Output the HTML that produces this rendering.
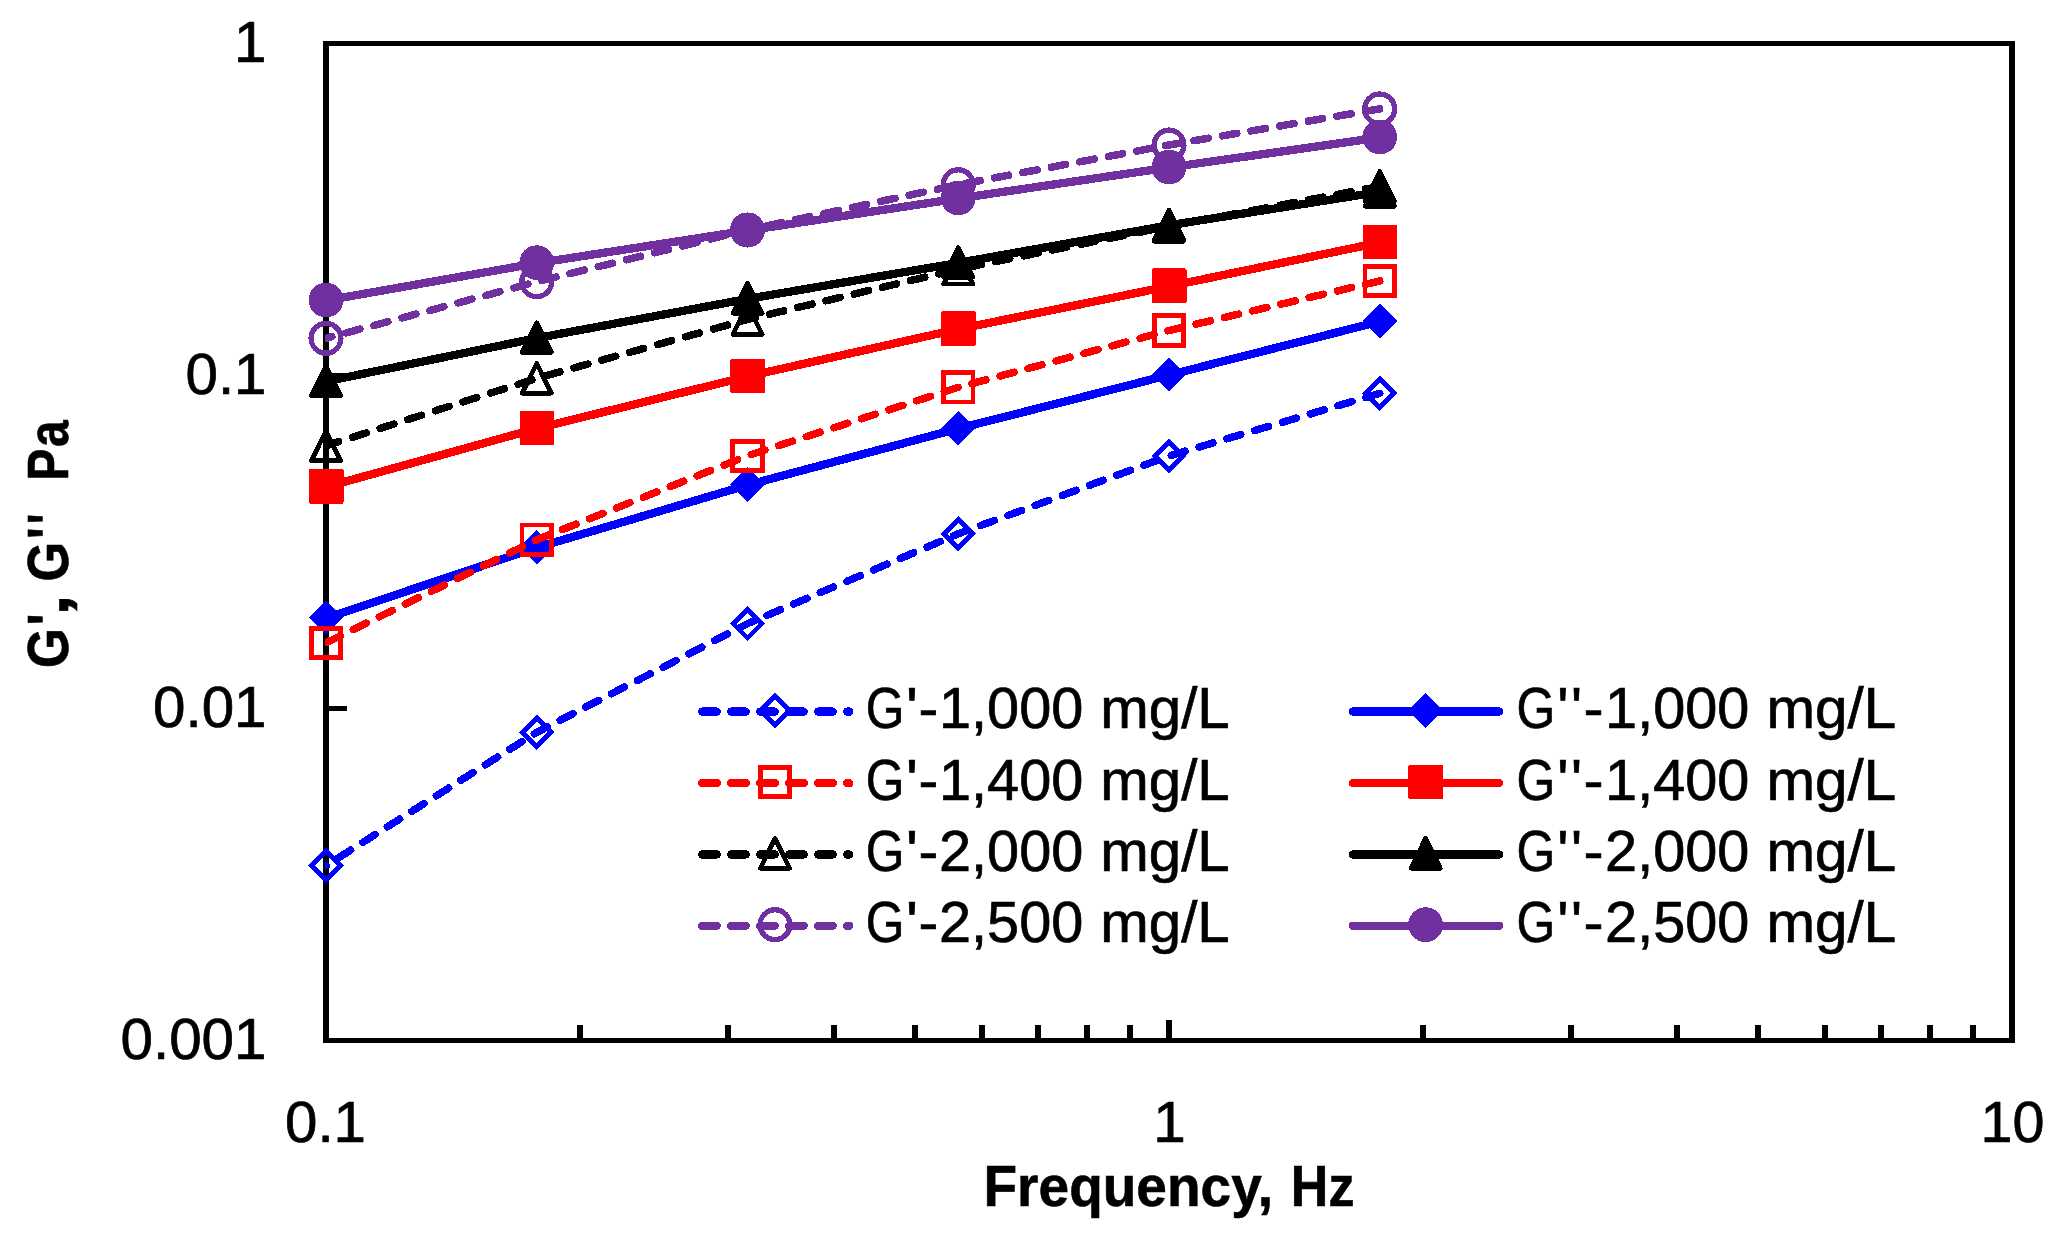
<!DOCTYPE html>
<html lang="en"><head><meta charset="utf-8"><title>G', G'' vs Frequency</title>
<style>
html,body{margin:0;padding:0;background:#fff;}
body{width:2062px;height:1244px;overflow:hidden;}
svg{display:block;}
text{font-family:"Liberation Sans",sans-serif;fill:#000;}
.t{font-size:57.2px;stroke:#000;stroke-width:0.7px;}
.b{font-size:56.5px;font-weight:bold;stroke:#000;stroke-width:0.6px;}
</style></head><body>
<svg width="2062" height="1244" viewBox="0 0 2062 1244">
<defs><clipPath id="plot"><rect x="325" y="43.5" width="1687" height="997"/></clipPath></defs>
<rect width="2062" height="1244" fill="#fff"/>
<g fill="#000" shape-rendering="crispEdges">
<rect x="323" y="41" width="6" height="1002"/>
<rect x="2009" y="41" width="6" height="1002"/>
<rect x="323" y="41" width="1692" height="5"/>
<rect x="323" y="1038" width="1692" height="5"/>

<rect x="577" y="1025" width="6" height="14"/>
<rect x="725" y="1025" width="6" height="14"/>
<rect x="831" y="1025" width="6" height="14"/>
<rect x="912" y="1025" width="6" height="14"/>
<rect x="979" y="1025" width="6" height="14"/>
<rect x="1035" y="1025" width="6" height="14"/>
<rect x="1084" y="1025" width="6" height="14"/>
<rect x="1127" y="1025" width="6" height="14"/>
<rect x="1420" y="1025" width="6" height="14"/>
<rect x="1568" y="1025" width="6" height="14"/>
<rect x="1674" y="1025" width="6" height="14"/>
<rect x="1755" y="1025" width="6" height="14"/>
<rect x="1822" y="1025" width="6" height="14"/>
<rect x="1878" y="1025" width="6" height="14"/>
<rect x="1927" y="1025" width="6" height="14"/>
<rect x="1970" y="1025" width="6" height="14"/>
<rect x="1166" y="1020" width="6" height="19"/>
<rect x="328" y="706" width="19" height="5"/>
<rect x="328" y="373" width="19" height="5"/>
</g>
<g shape-rendering="crispEdges">
<path d="M1379.75,393.3 L1169,456 L958.25,533.8 L747.5,623.7 L536.75,732.3 L326,865.7" fill="none" stroke="#0000ff" stroke-width="7.5" stroke-linejoin="round" stroke-linecap="round" stroke-dasharray="14.5 14.5" clip-path="url(#plot)"/>
<polygon points="326,851.4 340.3,865.7 326,880 311.7,865.7" fill="none" stroke="#0000ff" stroke-width="4.8" stroke-linejoin="miter"/>
<polygon points="536.75,718 551.05,732.3 536.75,746.6 522.45,732.3" fill="none" stroke="#0000ff" stroke-width="4.8" stroke-linejoin="miter"/>
<polygon points="747.5,609.4 761.8,623.7 747.5,638 733.2,623.7" fill="none" stroke="#0000ff" stroke-width="4.8" stroke-linejoin="miter"/>
<polygon points="958.25,519.5 972.55,533.8 958.25,548.1 943.95,533.8" fill="none" stroke="#0000ff" stroke-width="4.8" stroke-linejoin="miter"/>
<polygon points="1169,441.7 1183.3,456 1169,470.3 1154.7,456" fill="none" stroke="#0000ff" stroke-width="4.8" stroke-linejoin="miter"/>
<polygon points="1379.75,379 1394.05,393.3 1379.75,407.6 1365.45,393.3" fill="none" stroke="#0000ff" stroke-width="4.8" stroke-linejoin="miter"/>
<path d="M326,617.6 L536.75,547.1 L747.5,484.5 L958.25,428.1 L1169,374.5 L1379.75,321" fill="none" stroke="#0000ff" stroke-width="8.3" stroke-linejoin="round" transform="translate(0.3,0.45)" clip-path="url(#plot)"/>
<polygon points="326,600.3 343.3,617.6 326,634.9 308.7,617.6" fill="#0000ff"/>
<polygon points="536.75,529.8 554.05,547.1 536.75,564.4 519.45,547.1" fill="#0000ff"/>
<polygon points="747.5,467.2 764.8,484.5 747.5,501.8 730.2,484.5" fill="#0000ff"/>
<polygon points="958.25,410.8 975.55,428.1 958.25,445.4 940.95,428.1" fill="#0000ff"/>
<polygon points="1169,357.2 1186.3,374.5 1169,391.8 1151.7,374.5" fill="#0000ff"/>
<polygon points="1379.75,303.7 1397.05,321 1379.75,338.3 1362.45,321" fill="#0000ff"/>
<path d="M1379.75,281 L1169,330.5 L958.25,387.3 L747.5,455.8 L536.75,539.8 L326,642.9" fill="none" stroke="#ff0000" stroke-width="7.5" stroke-linejoin="round" stroke-linecap="round" stroke-dasharray="14.5 14.5" clip-path="url(#plot)"/>
<rect x="311.3" y="628.2" width="29.4" height="29.4" fill="none" stroke="#ff0000" stroke-width="4.8"/>
<rect x="522.05" y="525.1" width="29.4" height="29.4" fill="none" stroke="#ff0000" stroke-width="4.8"/>
<rect x="732.8" y="441.1" width="29.4" height="29.4" fill="none" stroke="#ff0000" stroke-width="4.8"/>
<rect x="943.55" y="372.6" width="29.4" height="29.4" fill="none" stroke="#ff0000" stroke-width="4.8"/>
<rect x="1154.3" y="315.8" width="29.4" height="29.4" fill="none" stroke="#ff0000" stroke-width="4.8"/>
<rect x="1365.05" y="266.3" width="29.4" height="29.4" fill="none" stroke="#ff0000" stroke-width="4.8"/>
<path d="M326,486.4 L536.75,428 L747.5,375.9 L958.25,328.6 L1169,285.8 L1379.75,242" fill="none" stroke="#ff0000" stroke-width="8.3" stroke-linejoin="round" transform="translate(0.3,0.45)" clip-path="url(#plot)"/>
<rect x="308.85" y="469.05" width="34.7" height="34.7" rx="1.5" fill="#ff0000"/>
<rect x="519.6" y="410.65" width="34.7" height="34.7" rx="1.5" fill="#ff0000"/>
<rect x="730.35" y="358.55" width="34.7" height="34.7" rx="1.5" fill="#ff0000"/>
<rect x="941.1" y="311.25" width="34.7" height="34.7" rx="1.5" fill="#ff0000"/>
<rect x="1151.85" y="268.45" width="34.7" height="34.7" rx="1.5" fill="#ff0000"/>
<rect x="1362.6" y="224.65" width="34.7" height="34.7" rx="1.5" fill="#ff0000"/>
<path d="M1379.75,186.4 L1169,226.3 L958.25,269.2 L747.5,319.5 L536.75,378.3 L326,445.8" fill="none" stroke="#000000" stroke-width="7.5" stroke-linejoin="round" stroke-linecap="round" stroke-dasharray="14.5 14.5" clip-path="url(#plot)"/>
<polygon points="326,431 340.6,460.6 311.4,460.6" fill="none" stroke="#000000" stroke-width="4.8" stroke-linejoin="round"/>
<polygon points="536.75,363.5 551.35,393.1 522.15,393.1" fill="none" stroke="#000000" stroke-width="4.8" stroke-linejoin="round"/>
<polygon points="747.5,304.7 762.1,334.3 732.9,334.3" fill="none" stroke="#000000" stroke-width="4.8" stroke-linejoin="round"/>
<polygon points="958.25,254.4 972.85,284 943.65,284" fill="none" stroke="#000000" stroke-width="4.8" stroke-linejoin="round"/>
<polygon points="1169,211.5 1183.6,241.1 1154.4,241.1" fill="none" stroke="#000000" stroke-width="4.8" stroke-linejoin="round"/>
<polygon points="1379.75,171.6 1394.35,201.2 1365.15,201.2" fill="none" stroke="#000000" stroke-width="4.8" stroke-linejoin="round"/>
<path d="M326,380.9 L536.75,337.6 L747.5,298.4 L958.25,262.4 L1169,224.8 L1379.75,191.4" fill="none" stroke="#000000" stroke-width="8.3" stroke-linejoin="round" transform="translate(0.3,0.45)" clip-path="url(#plot)"/>
<polygon points="326,366.1 340.6,395.7 311.4,395.7" fill="#000000" stroke="#000000" stroke-width="4.8" stroke-linejoin="round"/>
<polygon points="536.75,322.8 551.35,352.4 522.15,352.4" fill="#000000" stroke="#000000" stroke-width="4.8" stroke-linejoin="round"/>
<polygon points="747.5,283.6 762.1,313.2 732.9,313.2" fill="#000000" stroke="#000000" stroke-width="4.8" stroke-linejoin="round"/>
<polygon points="958.25,247.6 972.85,277.2 943.65,277.2" fill="#000000" stroke="#000000" stroke-width="4.8" stroke-linejoin="round"/>
<polygon points="1169,210 1183.6,239.6 1154.4,239.6" fill="#000000" stroke="#000000" stroke-width="4.8" stroke-linejoin="round"/>
<polygon points="1379.75,176.6 1394.35,206.2 1365.15,206.2" fill="#000000" stroke="#000000" stroke-width="4.8" stroke-linejoin="round"/>
<path d="M1379.75,108.9 L1169,145 L958.25,184.7 L747.5,230 L536.75,281.8 L326,338.3" fill="none" stroke="#7030a0" stroke-width="7.5" stroke-linejoin="round" stroke-linecap="round" stroke-dasharray="14.5 14.5" clip-path="url(#plot)"/>
<circle cx="326" cy="338.3" r="14.9" fill="none" stroke="#7030a0" stroke-width="5.3"/>
<circle cx="536.75" cy="281.8" r="14.9" fill="none" stroke="#7030a0" stroke-width="5.3"/>
<circle cx="747.5" cy="230" r="14.9" fill="none" stroke="#7030a0" stroke-width="5.3"/>
<circle cx="958.25" cy="184.7" r="14.9" fill="none" stroke="#7030a0" stroke-width="5.3"/>
<circle cx="1169" cy="145" r="14.9" fill="none" stroke="#7030a0" stroke-width="5.3"/>
<circle cx="1379.75" cy="108.9" r="14.9" fill="none" stroke="#7030a0" stroke-width="5.3"/>
<path d="M326,300 L536.75,262.7 L747.5,230 L958.25,198 L1169,167 L1379.75,137" fill="none" stroke="#7030a0" stroke-width="8.3" stroke-linejoin="round" transform="translate(0.3,0.45)" clip-path="url(#plot)"/>
<circle cx="326" cy="300" r="17.4" fill="#7030a0"/>
<circle cx="536.75" cy="262.7" r="17.4" fill="#7030a0"/>
<circle cx="747.5" cy="230" r="17.4" fill="#7030a0"/>
<circle cx="958.25" cy="198" r="17.4" fill="#7030a0"/>
<circle cx="1169" cy="167" r="17.4" fill="#7030a0"/>
<circle cx="1379.75" cy="137" r="17.4" fill="#7030a0"/>
</g>
<g shape-rendering="crispEdges">
<line x1="702.2" y1="711.6" x2="849.3" y2="711.6" stroke="#0000ff" stroke-width="8.3" stroke-linecap="round" stroke-dasharray="14.5 14.5"/>
<polygon points="775,696.2 789.3,710.5 775,724.8 760.7,710.5" fill="none" stroke="#0000ff" stroke-width="4.8" stroke-linejoin="miter"/>
<text class="t" y="728.1" xml:space="preserve"><tspan x="865.75" textLength="38.72" lengthAdjust="spacingAndGlyphs">G</tspan><tspan x="905.99" textLength="11.9" lengthAdjust="spacingAndGlyphs">'</tspan><tspan x="918.61" textLength="19.78" lengthAdjust="spacingAndGlyphs">-</tspan><tspan x="939" textLength="160.3" lengthAdjust="spacingAndGlyphs">1,000 </tspan><tspan x="1100.3" textLength="129.4" lengthAdjust="spacingAndGlyphs">mg/L</tspan></text>
<line x1="1352.8" y1="711.6" x2="1499.2" y2="711.6" stroke="#0000ff" stroke-width="8.3" stroke-linecap="round"/>
<polygon points="1425.6,693.2 1442.9,710.5 1425.6,727.8 1408.3,710.5" fill="#0000ff"/>
<text class="t" y="728.1" xml:space="preserve"><tspan x="1516.55" textLength="38.72" lengthAdjust="spacingAndGlyphs">G</tspan><tspan x="1557.35" textLength="11.26" lengthAdjust="spacingAndGlyphs">'</tspan><tspan x="1570.91" textLength="11.05" lengthAdjust="spacingAndGlyphs">'</tspan><tspan x="1583.47" textLength="20.05" lengthAdjust="spacingAndGlyphs">-</tspan><tspan x="1605.1" textLength="160.3" lengthAdjust="spacingAndGlyphs">1,000 </tspan><tspan x="1766.5" textLength="129.6" lengthAdjust="spacingAndGlyphs">mg/L</tspan></text>
<line x1="702.2" y1="783.1" x2="849.3" y2="783.1" stroke="#ff0000" stroke-width="8.3" stroke-linecap="round" stroke-dasharray="14.5 14.5"/>
<rect x="760.3" y="767.3" width="29.4" height="29.4" fill="none" stroke="#ff0000" stroke-width="4.8"/>
<text class="t" y="799.6" xml:space="preserve"><tspan x="865.75" textLength="38.72" lengthAdjust="spacingAndGlyphs">G</tspan><tspan x="905.99" textLength="11.9" lengthAdjust="spacingAndGlyphs">'</tspan><tspan x="918.61" textLength="19.78" lengthAdjust="spacingAndGlyphs">-</tspan><tspan x="939" textLength="160.3" lengthAdjust="spacingAndGlyphs">1,400 </tspan><tspan x="1100.3" textLength="129.4" lengthAdjust="spacingAndGlyphs">mg/L</tspan></text>
<line x1="1352.8" y1="783.1" x2="1499.2" y2="783.1" stroke="#ff0000" stroke-width="8.3" stroke-linecap="round"/>
<rect x="1408.45" y="764.65" width="34.7" height="34.7" rx="1.5" fill="#ff0000"/>
<text class="t" y="799.6" xml:space="preserve"><tspan x="1516.55" textLength="38.72" lengthAdjust="spacingAndGlyphs">G</tspan><tspan x="1557.35" textLength="11.26" lengthAdjust="spacingAndGlyphs">'</tspan><tspan x="1570.91" textLength="11.05" lengthAdjust="spacingAndGlyphs">'</tspan><tspan x="1583.47" textLength="20.05" lengthAdjust="spacingAndGlyphs">-</tspan><tspan x="1605.1" textLength="160.3" lengthAdjust="spacingAndGlyphs">1,400 </tspan><tspan x="1766.5" textLength="129.6" lengthAdjust="spacingAndGlyphs">mg/L</tspan></text>
<line x1="702.2" y1="854.5" x2="849.3" y2="854.5" stroke="#000000" stroke-width="8.3" stroke-linecap="round" stroke-dasharray="14.5 14.5"/>
<polygon points="775,838.6 789.6,868.2 760.4,868.2" fill="none" stroke="#000000" stroke-width="4.8" stroke-linejoin="round"/>
<text class="t" y="871" xml:space="preserve"><tspan x="865.75" textLength="38.72" lengthAdjust="spacingAndGlyphs">G</tspan><tspan x="905.99" textLength="11.9" lengthAdjust="spacingAndGlyphs">'</tspan><tspan x="918.61" textLength="19.78" lengthAdjust="spacingAndGlyphs">-</tspan><tspan x="939" textLength="160.3" lengthAdjust="spacingAndGlyphs">2,000 </tspan><tspan x="1100.3" textLength="129.4" lengthAdjust="spacingAndGlyphs">mg/L</tspan></text>
<line x1="1352.8" y1="854.5" x2="1499.2" y2="854.5" stroke="#000000" stroke-width="8.3" stroke-linecap="round"/>
<polygon points="1425.6,838.6 1440.2,868.2 1411,868.2" fill="#000000" stroke="#000000" stroke-width="4.8" stroke-linejoin="round"/>
<text class="t" y="871" xml:space="preserve"><tspan x="1516.55" textLength="38.72" lengthAdjust="spacingAndGlyphs">G</tspan><tspan x="1557.35" textLength="11.26" lengthAdjust="spacingAndGlyphs">'</tspan><tspan x="1570.91" textLength="11.05" lengthAdjust="spacingAndGlyphs">'</tspan><tspan x="1583.47" textLength="20.05" lengthAdjust="spacingAndGlyphs">-</tspan><tspan x="1605.1" textLength="160.3" lengthAdjust="spacingAndGlyphs">2,000 </tspan><tspan x="1766.5" textLength="129.6" lengthAdjust="spacingAndGlyphs">mg/L</tspan></text>
<line x1="702.2" y1="925.8" x2="849.3" y2="925.8" stroke="#7030a0" stroke-width="8.3" stroke-linecap="round" stroke-dasharray="14.5 14.5"/>
<circle cx="775" cy="924.7" r="14.9" fill="none" stroke="#7030a0" stroke-width="5.3"/>
<text class="t" y="942.3" xml:space="preserve"><tspan x="865.75" textLength="38.72" lengthAdjust="spacingAndGlyphs">G</tspan><tspan x="905.99" textLength="11.9" lengthAdjust="spacingAndGlyphs">'</tspan><tspan x="918.61" textLength="19.78" lengthAdjust="spacingAndGlyphs">-</tspan><tspan x="939" textLength="160.3" lengthAdjust="spacingAndGlyphs">2,500 </tspan><tspan x="1100.3" textLength="129.4" lengthAdjust="spacingAndGlyphs">mg/L</tspan></text>
<line x1="1352.8" y1="925.8" x2="1499.2" y2="925.8" stroke="#7030a0" stroke-width="8.3" stroke-linecap="round"/>
<circle cx="1425.6" cy="924.7" r="17.4" fill="#7030a0"/>
<text class="t" y="942.3" xml:space="preserve"><tspan x="1516.55" textLength="38.72" lengthAdjust="spacingAndGlyphs">G</tspan><tspan x="1557.35" textLength="11.26" lengthAdjust="spacingAndGlyphs">'</tspan><tspan x="1570.91" textLength="11.05" lengthAdjust="spacingAndGlyphs">'</tspan><tspan x="1583.47" textLength="20.05" lengthAdjust="spacingAndGlyphs">-</tspan><tspan x="1605.1" textLength="160.3" lengthAdjust="spacingAndGlyphs">2,500 </tspan><tspan x="1766.5" textLength="129.6" lengthAdjust="spacingAndGlyphs">mg/L</tspan></text>
</g>
<text class="t" x="266.5" y="62.1" text-anchor="end" textLength="32.5" lengthAdjust="spacingAndGlyphs">1</text>
<text class="t" x="266.5" y="394.4" text-anchor="end" textLength="81" lengthAdjust="spacingAndGlyphs">0.1</text>
<text class="t" x="266.5" y="726.8" text-anchor="end" textLength="113.5" lengthAdjust="spacingAndGlyphs">0.01</text>
<text class="t" x="266.5" y="1059.1" text-anchor="end" textLength="146" lengthAdjust="spacingAndGlyphs">0.001</text>
<text class="t" x="325.5" y="1141.7" text-anchor="middle" textLength="81" lengthAdjust="spacingAndGlyphs">0.1</text>
<text class="t" x="1169.5" y="1141.7" text-anchor="middle" textLength="32.5" lengthAdjust="spacingAndGlyphs">1</text>
<text class="t" x="2012.6" y="1141.7" text-anchor="middle" textLength="64" lengthAdjust="spacingAndGlyphs">10</text>
<text class="b" y="1206.3" xml:space="preserve"><tspan x="983.5" textLength="289.5" lengthAdjust="spacingAndGlyphs">Frequency,</tspan><tspan x="1276.4" textLength="78" lengthAdjust="spacingAndGlyphs"> Hz</tspan></text>
<text class="b" transform="translate(68.2,0) rotate(-90)" xml:space="preserve"><tspan x="-667.9" textLength="39.88" lengthAdjust="spacingAndGlyphs">G</tspan><tspan x="-625.58" textLength="12" lengthAdjust="spacingAndGlyphs">'</tspan><tspan x="-615.91" textLength="21.75" lengthAdjust="spacingAndGlyphs">,</tspan><tspan> </tspan><tspan x="-581.39" textLength="39.65" lengthAdjust="spacingAndGlyphs">G</tspan><tspan x="-538.94" textLength="11.82" lengthAdjust="spacingAndGlyphs">'</tspan><tspan x="-524.3" textLength="10.74" lengthAdjust="spacingAndGlyphs">'</tspan><tspan> </tspan><tspan> </tspan><tspan x="-480.63" textLength="32.18" lengthAdjust="spacingAndGlyphs">P</tspan><tspan x="-447" textLength="26.6" lengthAdjust="spacingAndGlyphs">a</tspan></text>
</svg></body></html>
